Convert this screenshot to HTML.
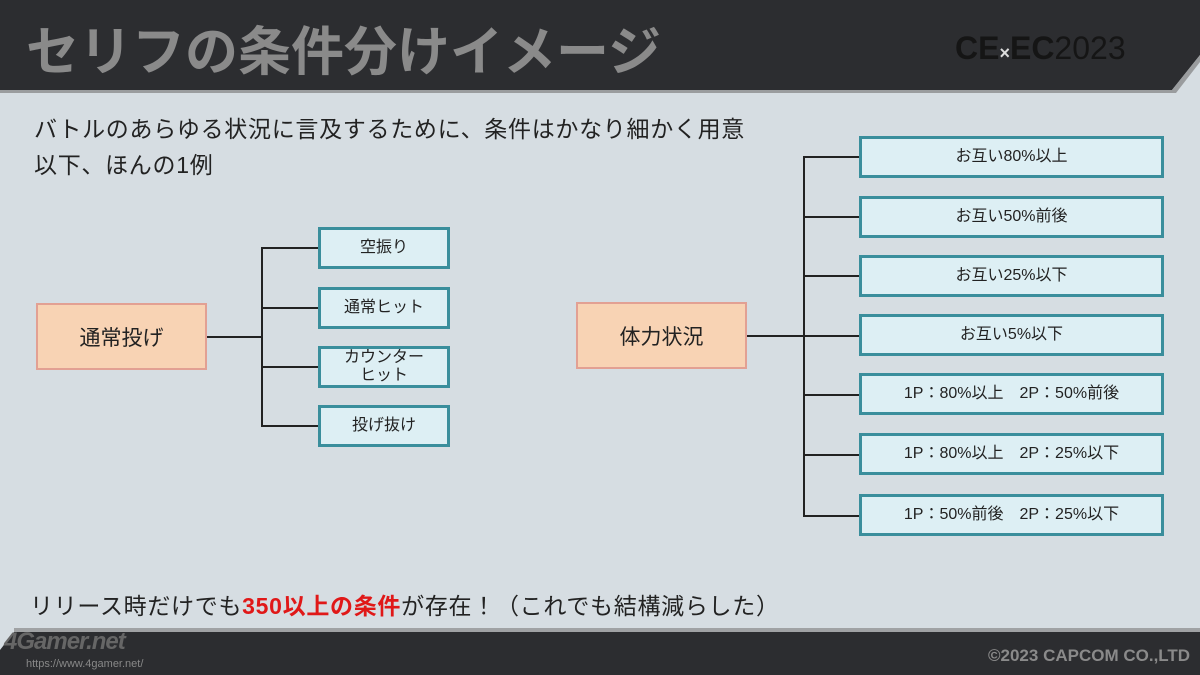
<!DOCTYPE html>
<html><head><meta charset="utf-8"><style>
body{margin:0;width:1200px;height:675px;overflow:hidden;background:#d6dde2;font-family:"Liberation Sans","Noto Sans CJK JP",sans-serif;position:relative}
.a{position:absolute}
.o{position:absolute;background:#f8d3b4;border:2px solid #e2a093;box-sizing:border-box;display:flex;align-items:center;justify-content:center;font-size:21px;color:#222}
.c{position:absolute;background:#ddeff4;border:3px solid #3a8e9c;box-sizing:border-box;display:flex;align-items:center;justify-content:center;font-size:16px;color:#222;text-align:center;line-height:18px}
.h{position:absolute;background:#222;height:2px}
.v{position:absolute;background:#222;width:2px}
</style></head><body>
<svg class="a" style="left:0;top:0" width="1200" height="675">
<polygon points="0,0 1200,0 1200,55 1172,90 0,90" fill="#2c2d30"/>
<polygon points="1172,90 1200,55 1200,62 1176,93 0,93 0,90" fill="#9a9c9e"/>
<polygon points="14,632 1200,632 1200,675 0,675 0,650" fill="#2c2d30"/>
<polygon points="14,628 1200,628 1200,632 14,632" fill="#a0a2a4"/>
</svg>
<div class="a" style="left:26px;top:10px;font-size:53px;font-weight:bold;color:#8a8a8a">セリフの条件分けイメージ</div>
<div class="a" style="left:955px;top:30px;font-size:32px;color:#151515;font-weight:bold">CE<span style="color:#ddd;font-size:18px">×</span>EC<span style="font-weight:normal">2023</span></div>
<div class="a" style="left:34px;top:110px;font-size:23px;letter-spacing:0.7px;color:#222">バトルのあらゆる状況に言及するために、条件はかなり細かく用意</div>
<div class="a" style="left:34px;top:146px;font-size:23px;letter-spacing:0.7px;color:#222">以下、ほんの1例</div>
<div class="a" style="left:30px;top:587px;font-size:23px;letter-spacing:0.7px;color:#222">リリース時だけでも<b style="color:#e01818">350以上の条件</b>が存在！（これでも結構減らした）</div>
<div class="a" style="left:4px;top:628px;font-size:24px;font-style:italic;color:#666;font-weight:bold;letter-spacing:-1px">4Gamer.net</div>
<div class="a" style="left:26px;top:658px;font-size:11px;color:#888">https://www.4gamer.net/</div>
<div class="a" style="left:988px;top:646px;font-size:17px;font-weight:bold;color:#8a8a8a">©2023 CAPCOM CO.,LTD</div>

<div class="o" style="left:36px;top:303px;width:171px;height:67px">通常投げ</div>
<div class="h" style="left:207px;top:336px;width:56px"></div>
<div class="v" style="left:261px;top:247px;height:180px"></div>
<div class="h" style="left:261px;top:247px;width:58px"></div>
<div class="h" style="left:261px;top:307px;width:58px"></div>
<div class="h" style="left:261px;top:366px;width:58px"></div>
<div class="h" style="left:261px;top:425px;width:58px"></div>
<div class="c" style="left:318px;top:227px;width:132px;height:42px">空振り</div>
<div class="c" style="left:318px;top:287px;width:132px;height:42px">通常ヒット</div>
<div class="c" style="left:318px;top:346px;width:132px;height:42px">カウンター<br>ヒット</div>
<div class="c" style="left:318px;top:405px;width:132px;height:42px">投げ抜け</div>

<div class="o" style="left:576px;top:302px;width:171px;height:67px">体力状況</div>
<div class="h" style="left:747px;top:335px;width:58px"></div>
<div class="v" style="left:803px;top:156px;height:361px"></div>
<div class="h" style="left:803px;top:156px;width:58px"></div>
<div class="h" style="left:803px;top:216px;width:58px"></div>
<div class="h" style="left:803px;top:275px;width:58px"></div>
<div class="h" style="left:803px;top:335px;width:58px"></div>
<div class="h" style="left:803px;top:394px;width:58px"></div>
<div class="h" style="left:803px;top:454px;width:58px"></div>
<div class="h" style="left:803px;top:515px;width:58px"></div>
<div class="c" style="left:859px;top:136px;width:305px;height:42px">お互い80%以上</div>
<div class="c" style="left:859px;top:196px;width:305px;height:42px">お互い50%前後</div>
<div class="c" style="left:859px;top:255px;width:305px;height:42px">お互い25%以下</div>
<div class="c" style="left:859px;top:314px;width:305px;height:42px">お互い5%以下</div>
<div class="c" style="left:859px;top:373px;width:305px;height:42px">1P：80%以上　2P：50%前後</div>
<div class="c" style="left:859px;top:433px;width:305px;height:42px">1P：80%以上　2P：25%以下</div>
<div class="c" style="left:859px;top:494px;width:305px;height:42px">1P：50%前後　2P：25%以下</div>
</body></html>
